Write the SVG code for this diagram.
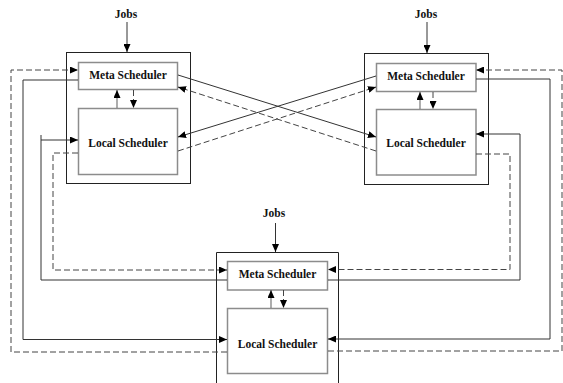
<svg xmlns="http://www.w3.org/2000/svg" width="563" height="383" viewBox="0 0 563 383">
<style>
.bg{fill:#fff}
.outer{fill:none;stroke:#222;stroke-width:1}
.inner{fill:#fff;stroke:#8c8c8c;stroke-width:1.5}
.t{font-family:"Liberation Serif","Times New Roman",serif;font-weight:bold;font-size:11.5px;fill:#111;text-anchor:middle}
.c{fill:none;stroke:#333;stroke-width:1}
.g{fill:none;stroke:#777;stroke-width:1.2}
.d{fill:none;stroke:#444;stroke-width:1;stroke-dasharray:6,3}
.dg{fill:none;stroke:#777;stroke-width:1.2;stroke-dasharray:6,3}
</style>
<defs>
<marker id="ah" viewBox="0 0 8 7" refX="8" refY="3.5" markerWidth="8" markerHeight="7" markerUnits="userSpaceOnUse" orient="auto">
<path d="M0,0 L8,3.5 L0,7 z" fill="#000"/>
</marker>
</defs>
<rect class="bg" width="563" height="383"/>

<g id="site-top-left">
<rect class="outer" x="66.5" y="52.5" width="124" height="131"/>
<text class="t" x="126" y="17.5">Jobs</text>
<g id="tl-meta"><rect class="inner" x="78.5" y="62.5" width="99" height="27"/><text class="t" x="128" y="79">Meta Scheduler</text></g>
<g id="tl-local"><rect class="inner" x="78.5" y="108.5" width="99" height="66"/><text class="t" x="128" y="147">Local Scheduler</text></g>
</g>

<g id="site-top-right">
<rect class="outer" x="364.5" y="53.5" width="124" height="131"/>
<text class="t" x="426" y="17.5">Jobs</text>
<g id="tr-meta"><rect class="inner" x="376.5" y="63.5" width="99.5" height="28"/><text class="t" x="426" y="80">Meta Scheduler</text></g>
<g id="tr-local"><rect class="inner" x="376.5" y="109.5" width="99.5" height="65.5"/><text class="t" x="426" y="147">Local Scheduler</text></g>
</g>

<g id="site-bottom">
<path class="outer" d="M216.5,383 V252.5 H338.5 V383"/>
<text class="t" x="274" y="217">Jobs</text>
<g id="b-meta"><rect class="inner" x="227.5" y="261.5" width="100" height="28.5"/><text class="t" x="277.5" y="278">Meta Scheduler</text></g>
<g id="b-local"><rect class="inner" x="227.5" y="308.5" width="100" height="65"/><text class="t" x="277.5" y="348">Local Scheduler</text></g>
</g>

<g id="connectors">
<!-- jobs inputs -->
<path class="c" d="M127,22 V52" marker-end="url(#ah)"/>
<path class="c" d="M427,22 V53" marker-end="url(#ah)"/>
<path class="c" d="M275.5,223 V252" marker-end="url(#ah)"/>
<!-- internal meta/local -->
<path class="g" d="M117,108 V90" marker-end="url(#ah)"/>
<path class="d" d="M133.5,90 V108" marker-end="url(#ah)" stroke-dasharray="3,2"/>
<path class="g" d="M420,109 V92" marker-end="url(#ah)"/>
<path class="d" d="M433,92 V109" marker-end="url(#ah)" stroke-dasharray="3,2"/>
<path class="g" d="M271,308 V290" marker-end="url(#ah)"/>
<path class="d" d="M283.5,290 V308" marker-end="url(#ah)" stroke-dasharray="3,2"/>
<!-- crossing links -->
<path class="c" d="M178,75 L376,137" marker-end="url(#ah)"/>
<path class="c" d="M376,76 L178,137" marker-end="url(#ah)"/>
<path class="d" d="M178,151 L376,87" marker-end="url(#ah)"/>
<path class="d" d="M376,151 L178,87" marker-end="url(#ah)"/>
<!-- left side -->
<path class="c" d="M78,80 H23 V339.5 H227" marker-end="url(#ah)"/>
<path class="d" d="M227,352 H11 V70 H78" marker-end="url(#ah)"/>
<path class="c" d="M227,280 H41 V140 H78" marker-end="url(#ah)"/>
<path class="c" d="M41,140 V135"/>
<path class="d" d="M78,153 H53 V270 H227" marker-end="url(#ah)"/>
<!-- right side -->
<path class="d" d="M476,154 H510 V269.5 H328" marker-end="url(#ah)"/>
<path class="c" d="M328,280 H520 V134 H476" marker-end="url(#ah)"/>
<path class="c" d="M476,79 H550 V339 H328" marker-end="url(#ah)"/>
<path class="d" d="M328,351 H562 V70 H476" marker-end="url(#ah)"/>
</g>
</svg>
